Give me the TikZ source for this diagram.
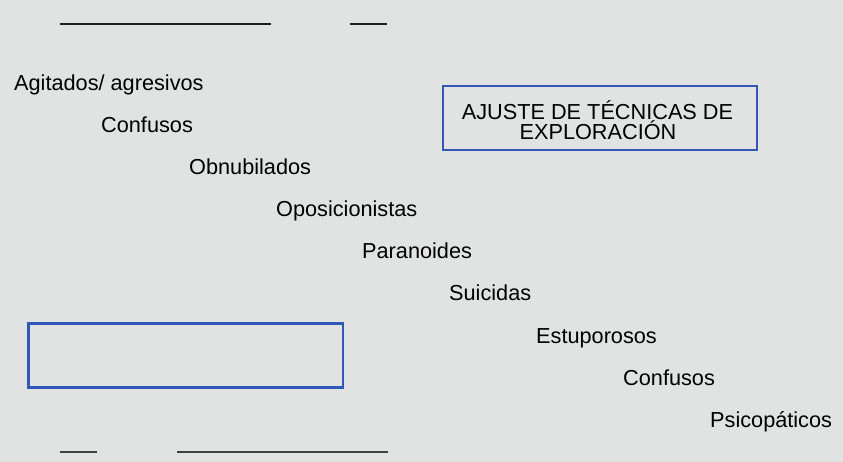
\documentclass[tikz,border=0pt]{standalone}
\usepackage{fontspec}
\setmainfont{Liberation Sans}
\definecolor{bgc}{HTML}{E1E2E2}
\definecolor{boxblue}{HTML}{2F58B9}
\definecolor{rulec}{HTML}{1E1E1E}
\begin{document}
\begin{tikzpicture}[x=1pt,y=-1pt,
  item/.style={anchor=base west,inner sep=0pt,font=\fontsize{21.7}{24}\selectfont},
  bluebox/.style={draw=boxblue,line width=2.4pt},
  blank/.style={draw=rulec,line width=2pt}]
\fill[bgc] (0,0) rectangle (843,462);
\useasboundingbox (0,0) rectangle (843,462);
% top blanks
\coordinate (t1a) at (60,24.5); \coordinate (t1b) at (270.5,24.5);
\coordinate (t2a) at (350,24.5); \coordinate (t2b) at (387,24.5);
\draw[blank] (t1a) -- (t1b);
\draw[blank] (t2a) -- (t2b);
% bottom blanks
\coordinate (b1a) at (60,451.5); \coordinate (b1b) at (97,451.5);
\coordinate (b2a) at (177,451.5); \coordinate (b2b) at (388,451.5);
\draw[blank,draw=rulec!85] (b1a) -- (b1b);
\draw[blank,draw=rulec!85] (b2a) -- (b2b);
% list
\node[item] (i1) at (14,91) {Agitados/ agresivos};
\node[item] (i2) at (101,133) {Confusos};
\node[item] (i3) at (189,175) {Obnubilados};
\node[item] (i4) at (276,217) {Oposicionistas};
\node[item] (i5) at (362,259) {Paranoides};
\node[item] (i6) at (449,301) {Suicidas};
\node[item] (i7) at (536,343) {Estuporosos};
\node[item] (i8) at (623,385) {Confusos};
\node[item] (i9) at (710,427) {Psicopáticos};
% boxes
\draw[bluebox] (443,86) rectangle (757,150);
\node[anchor=base,inner sep=0pt,font=\fontsize{21.7}{24}\selectfont] (h1) at (597.5,120) {AJUSTE DE TÉCNICAS DE};
\node[anchor=base,inner sep=0pt,font=\fontsize{21.7}{24}\selectfont] (h2) at (598,140) {EXPLORACIÓN};
\draw[bluebox] (28.5,323.5) rectangle (343,387.5);
\end{tikzpicture}
\end{document}
